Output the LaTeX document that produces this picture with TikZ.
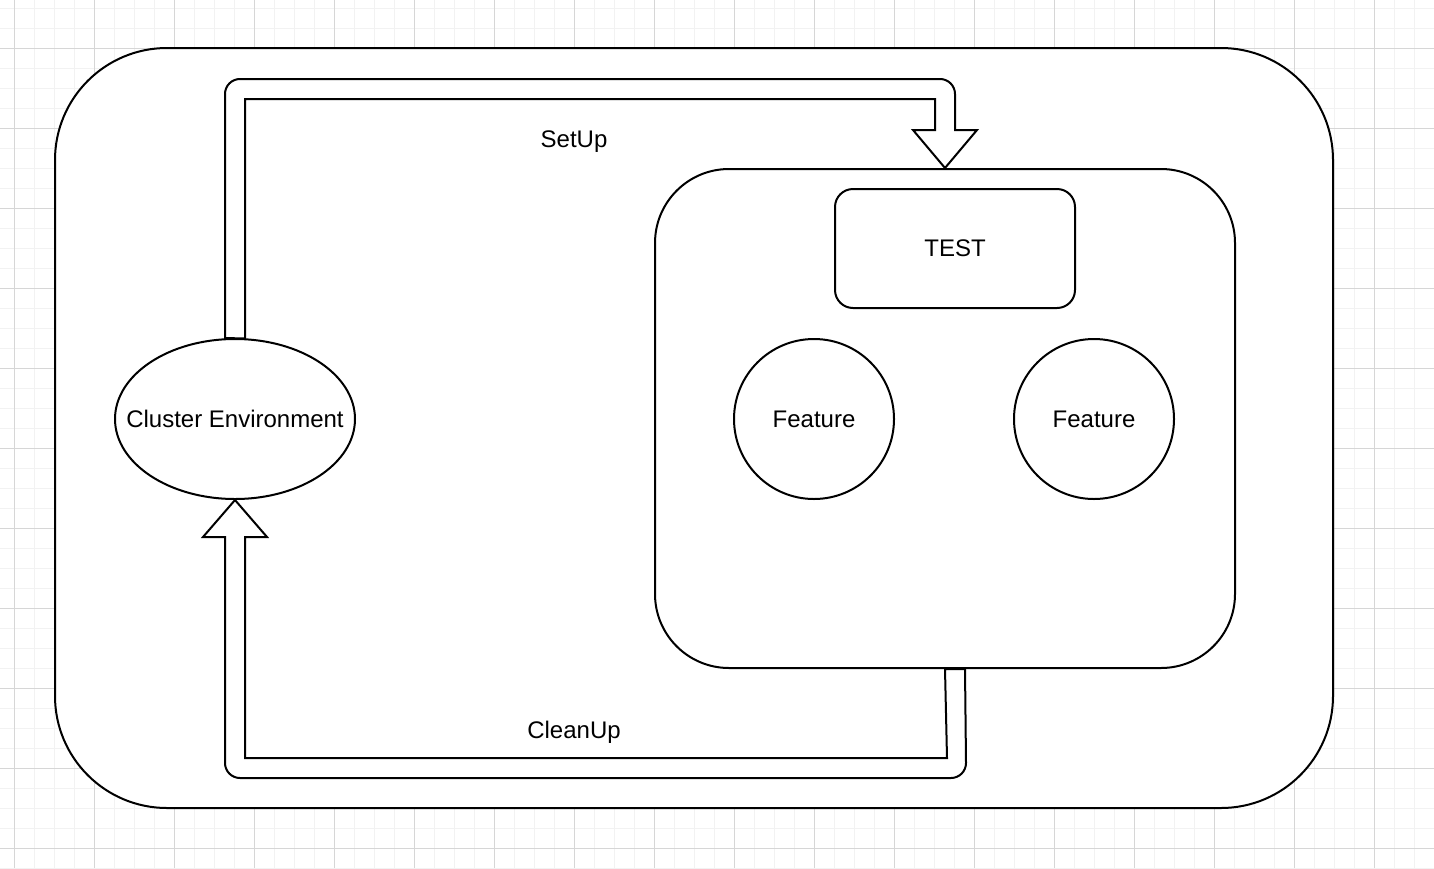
\documentclass[tikz,border=0pt]{standalone}
\usepackage{fontspec}
\setmainfont{Liberation Sans}
\usetikzlibrary{shapes.geometric,calc}
\definecolor{minorg}{RGB}{242,242,242}
\definecolor{majorg}{RGB}{214,214,214}
\tikzset{
  x=0.5pt, y=-0.5pt,
  box/.style={draw=black, line width=1pt, fill=white, rectangle, inner sep=0pt},
  roundnode/.style={draw=black, line width=1pt, fill=white, circle, minimum size=80pt, inner sep=0pt, font=\fontsize{12}{14}\selectfont},
  ellnode/.style={draw=black, line width=1pt, fill=white, ellipse, minimum width=120pt, minimum height=80pt, inner sep=0pt, font=\fontsize{12}{14}\selectfont},
  lbl/.style={font=\fontsize{12}{14}\selectfont, inner sep=1pt},
  flexarrow/.style={draw=black, line width=1pt, fill=white, line join=miter},
  minorline/.style={draw=minorg, line width=0.5pt},
  majorline/.style={draw=majorg, line width=0.5pt}
}
\begin{document}
\begin{tikzpicture}
\useasboundingbox (0,0) rectangle (1434,868);
\fill[white] (0,0) rectangle (1434,868);
% grid
\foreach \gx in {14,34,...,1434} \draw[minorline] (\gx,0) -- (\gx,868);
\foreach \gy in {8,28,...,868} \draw[minorline] (0,\gy) -- (1434,\gy);
\foreach \gx in {14,94,...,1374} \draw[majorline] (\gx,0) -- (\gx,868);
\foreach \gy in {48,128,...,848} \draw[majorline] (0,\gy) -- (1434,\gy);
% outer container
\node[box, minimum width=639pt, minimum height=380pt, rounded corners=56pt] (outer) at (694,428) {};
% inner container
\node[box, minimum width=290pt, minimum height=249.5pt, rounded corners=37pt] (inner) at (945,418.5) {};
% nodes
\node[box, minimum width=120pt, minimum height=59.5pt, rounded corners=9pt, font=\fontsize{12}{14}\selectfont] (test) at (955,248.5) {\raisebox{-0.5pt}{TEST}};
\node[roundnode] (f1) at (814,419) {\raisebox{-0.5pt}{Feature}};
\node[roundnode] (f2) at (1094,419) {\raisebox{-0.5pt}{Feature}};
\node[ellnode] (ce) at (235,419) {\makebox[0pt]{\raisebox{-0.5pt}{Cluster Environment}}};
% SetUp arrow
\draw[flexarrow] ($(ce.north)+(-10,0)$) -- (225,94)
  .. controls (225,85.7) and (231.7,79) .. (240,79) -- (940,79)
  .. controls (948.3,79) and (955,85.7) .. (955,94) -- (955,130) -- (977,130)
  -- (inner.north) -- (913,130) -- (935,130) -- (935,99) -- (245,99)
  -- ($(ce.north)+(10,0.5)$) -- cycle;
% CleanUp arrow
\draw[flexarrow] (inner.south) -- (947,758) -- (245,758) -- (245,537) -- (267,537)
  -- (ce.south) -- (203,537) -- (225,537) -- (225,763)
  .. controls (225,771.3) and (231.7,778) .. (240,778) -- (951,778)
  .. controls (959.3,778) and (966,771.3) .. (966,763)
  -- ($(inner.south)+(20,0)$) -- cycle;
% labels
\node[lbl] (setup) at (574,142) {SetUp};
\node[lbl] (cleanup) at (574,732) {CleanUp};
\end{tikzpicture}
\end{document}
